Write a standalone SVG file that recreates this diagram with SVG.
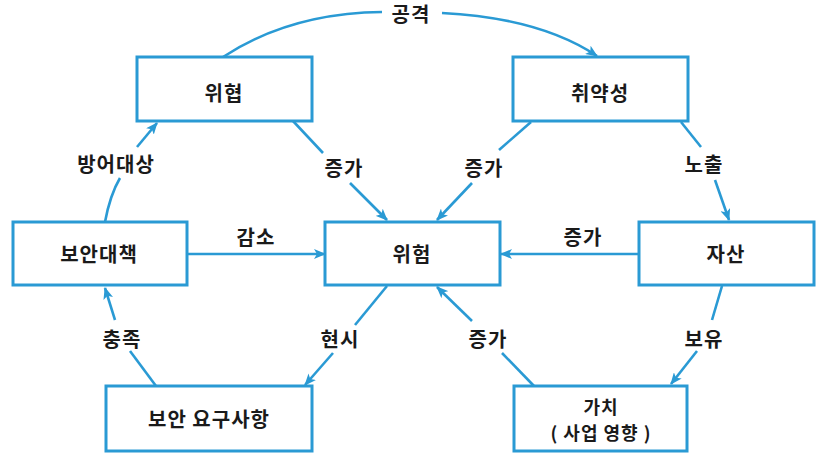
<svg xmlns="http://www.w3.org/2000/svg" width="819" height="458" viewBox="0 0 819 458">
<style>
.box{fill:#fff;stroke:#2a9ad4;stroke-width:3}
.ln{fill:none;stroke:#2a9ad4;stroke-width:2.6}
text{font-family:"Noto Sans CJK KR","Noto Sans",sans-serif;font-weight:bold;font-size:20px;fill:#1a1a1a;text-anchor:middle;dominant-baseline:central;letter-spacing:1px}
.sm{font-size:18px}
</style>
<defs>
<marker id="ah" viewBox="0 0 12 10" refX="11" refY="5" markerWidth="12" markerHeight="10" markerUnits="userSpaceOnUse" orient="auto">
<path d="M0,0 L12,5 L0,10 L3,5 Z" fill="#2a9ad4"/>
</marker>
</defs>
<rect width="819" height="458" fill="#fff"/>
<g id="connectors">
<path class="ln" d="M223,57 Q290,13 382,12"/>
<path class="ln" d="M442,13 Q540,18 597,56" marker-end="url(#ah)"/>
<path class="ln" d="M105,222 Q110,195 120,178"/>
<path class="ln" d="M137,147 L157,123" marker-end="url(#ah)"/>
<path class="ln" d="M293,121 L323,153"/>
<path class="ln" d="M350,183 L387,220" marker-end="url(#ah)"/>
<path class="ln" d="M531,122 L499,150"/>
<path class="ln" d="M472,183 L437,220" marker-end="url(#ah)"/>
<path class="ln" d="M681,122 L701,147"/>
<path class="ln" d="M715,180 L729,220" marker-end="url(#ah)"/>
<path class="ln" d="M187,254 L325,254" marker-end="url(#ah)"/>
<path class="ln" d="M639,254 L501,254" marker-end="url(#ah)"/>
<path class="ln" d="M156,386 L130,351"/>
<path class="ln" d="M115,320 L105,288" marker-end="url(#ah)"/>
<path class="ln" d="M387,286 L355,325"/>
<path class="ln" d="M333,353 L305,385" marker-end="url(#ah)"/>
<path class="ln" d="M534,386 L502,353"/>
<path class="ln" d="M472,321 L437,287" marker-end="url(#ah)"/>
<path class="ln" d="M722,286 L712,320"/>
<path class="ln" d="M697,351 L671,384" marker-end="url(#ah)"/>
<text x="411" y="13">공격</text>
<text x="116" y="163">방어대상</text>
<text x="344" y="167">증가</text>
<text x="484" y="167">증가</text>
<text x="704" y="163">노출</text>
<text x="256" y="236">감소</text>
<text x="583" y="236">증가</text>
<text x="122" y="338">충족</text>
<text x="340" y="338">현시</text>
<text x="488" y="338">증가</text>
<text x="704" y="338">보유</text>
</g>
<g id="threat-top"><rect class="box" x="137" y="57" width="175" height="64"/><text x="224" y="92">위협</text></g>
<g id="vulnerability"><rect class="box" x="513" y="57" width="175" height="64"/><text x="600" y="92">취약성</text></g>
<g id="countermeasure"><rect class="box" x="13" y="222" width="174" height="63"/><text x="99" y="253">보안대책</text></g>
<g id="risk"><rect class="box" x="325" y="222" width="175" height="63"/><text x="412" y="253">위험</text></g>
<g id="asset"><rect class="box" x="639" y="222" width="175" height="63"/><text x="726" y="253">자산</text></g>
<g id="requirements"><rect class="box" x="106" y="386" width="206" height="65"/><text x="209" y="418">보안 요구사항</text></g>
<g id="value"><rect class="box" x="514" y="386" width="173" height="65"/><text class="sm" x="601" y="406">가치</text><text class="sm" x="601" y="432">( 사업 영향 )</text></g>
</svg>
